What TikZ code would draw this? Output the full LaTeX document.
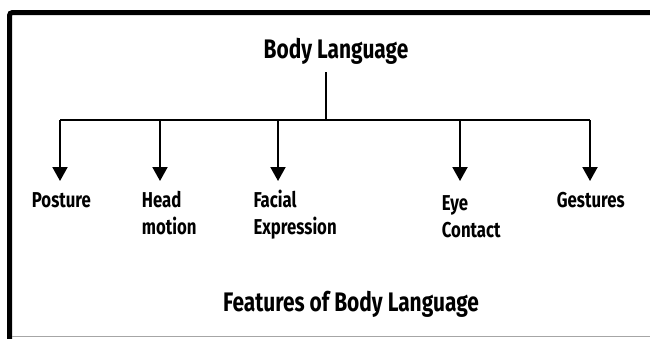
\documentclass[tikz,border=0pt]{standalone}
\usepackage{fontspec}
\setmainfont{Fira Sans}[FakeStretch=0.78]
\usetikzlibrary{arrows.meta}
\begin{document}
\begin{tikzpicture}[x=1pt,y=-1pt,
  title/.style={font=\fontsize{26.8}{30}\selectfont\bfseries, inner sep=0pt},
  lbl/.style={font=\fontsize{21.5}{27}\selectfont\bfseries, inner sep=0pt, align=left, anchor=base west},
  conn/.style={line width=2pt},
  arr/.style={line width=2pt, -{Triangle[width=15pt,length=14pt]}}]
\useasboundingbox (0,0) rectangle (650,338);
% frame
\draw[line width=5pt, rounded corners=3pt] (9.5,345) -- (9.5,12.5) -- (660,12.5);
\draw[gray!70, line width=1.5pt] (12,336.5) -- (650,336.5);
% title
\node[title, anchor=base] (root) at (336,58) {Body Language};
\node[title, anchor=base] (feat) at (351,311) {Features of Body Language};
% labels (multi-line nodes: base is the last line)
\node[lbl] (posture) at (31.7,207) {Posture};
\node[lbl] (head) at (141.7,234) {Head\\motion};
\node[lbl] (facial) at (253.3,234) {Facial\\Expression};
\node[lbl] (eye) at (441.7,237) {Eye\\Contact};
\node[lbl] (gest) at (556.7,207) {Gestures};
% coordinates
\coordinate (stem) at (326,72);
\coordinate (hub) at (326,120);
\coordinate (bl) at (60,120);
\coordinate (br) at (590,120);
\coordinate (b2) at (160,120);
\coordinate (b3) at (278,120);
\coordinate (b4) at (460,120);
\coordinate (t1) at (60,181);
\coordinate (t2) at (160,181);
\coordinate (t3) at (278,181);
\coordinate (t4) at (460,181);
\coordinate (t5) at (590,181);
\draw[conn] (stem) -- (hub);
\draw[conn] (bl) -- (br);
\draw[arr] (bl) -- (t1);
\draw[arr] (b2) -- (t2);
\draw[arr] (b3) -- (t3);
\draw[arr] (b4) -- (t4);
\draw[arr] (br) -- (t5);
\end{tikzpicture}
\end{document}
